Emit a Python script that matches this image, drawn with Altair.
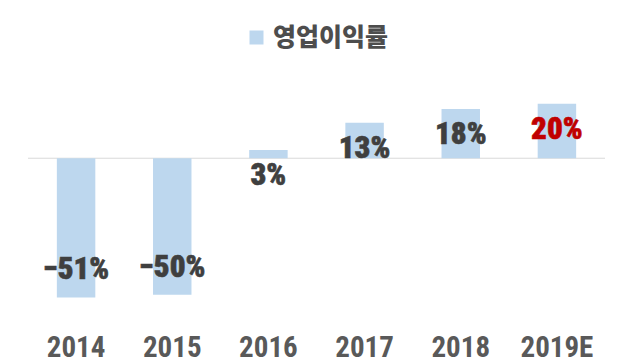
import altair as alt
import pandas as pd

years = ["2014", "2015", "2016", "2017", "2018", "2019E"]
margins = [-51, -50, 3, 13, 18, 20]
series_name = "영업이익률"
labels = [f"{v}%".replace("-", "\u2212") for v in margins]
highlight = ["no", "no", "no", "no", "no", "yes"]

df = pd.DataFrame({
    "year": years,
    "margin": margins,
    "label": labels,
    "series": [series_name] * len(years),
    "hl": highlight,
})
zero_df = pd.DataFrame({"zero": [0]})

NUM_FONT = "Roboto Condensed, Open Sans Condensed, Liberation Sans Narrow, DejaVu Sans Condensed, sans-serif"
W, H = 577, 232

x = alt.X("year:N", sort=years,
          scale=alt.Scale(paddingInner=0.6, paddingOuter=0.3),
          axis=alt.Axis(title=None, labelAngle=0, ticks=False, domain=False,
                        labelFont=NUM_FONT, labelFontSize=29, labelFontWeight="bold",
                        labelColor="#595959", labelPadding=34, labelBaseline="alphabetic",
                        grid=False))
yscale = alt.Scale(domain=[-60, 25], nice=False)

base = alt.Chart(df)

bars = base.mark_bar().encode(
    x=x,
    y=alt.Y("margin:Q", scale=yscale, axis=None),
    color=alt.Color("series:N", scale=alt.Scale(range=["#BDD7EE"]),
                    legend=alt.Legend(title=None, orient="none", legendX=216, legendY=-65,
                                      symbolType="square", symbolSize=196,
                                      symbolStrokeWidth=0, labelFont="Noto Sans CJK KR",
                                      labelFontSize=25, labelFontWeight=900,
                                      labelColor="#4D4D4D", labelOffset=4)),
)

zero_rule = alt.Chart(zero_df).mark_rule(color="#D9D9D9", strokeWidth=1).encode(
    y=alt.Y("zero:Q", scale=yscale, axis=None)
)

txt_scale = alt.Scale(domain=["no", "yes"], range=["#3F3F3F", "#C00000"])
fill_enc = alt.Fill("hl:N", scale=txt_scale, legend=None)
stroke_enc = alt.Stroke("hl:N", scale=txt_scale, legend=None)

pos_text = base.transform_filter(alt.datum.margin >= 0).mark_text(
    font=NUM_FONT, fontSize=31, fontWeight=900, baseline="middle", dy=26, strokeWidth=0.6
).encode(
    x=x, y=alt.Y("margin:Q", scale=yscale, axis=None), text="label:N",
    fill=fill_enc, stroke=stroke_enc,
)

neg_text = base.transform_filter(alt.datum.margin < 0).mark_text(
    font=NUM_FONT, fontSize=31, fontWeight=900, baseline="middle", dy=-27, strokeWidth=0.6
).encode(
    x=x, y=alt.Y("margin:Q", scale=yscale, axis=None), text="label:N",
    fill=fill_enc, stroke=stroke_enc,
)

chart = alt.layer(zero_rule, bars, pos_text, neg_text).properties(
    width=W, height=H,
    autosize=alt.AutoSizeParams(type="none"),
    padding={"left": 20, "top": 82, "right": 10, "bottom": 42},
    background="white",
).configure_view(stroke=None)

chart.save("out.html", embed_options={"renderer": "svg", "actions": False})
